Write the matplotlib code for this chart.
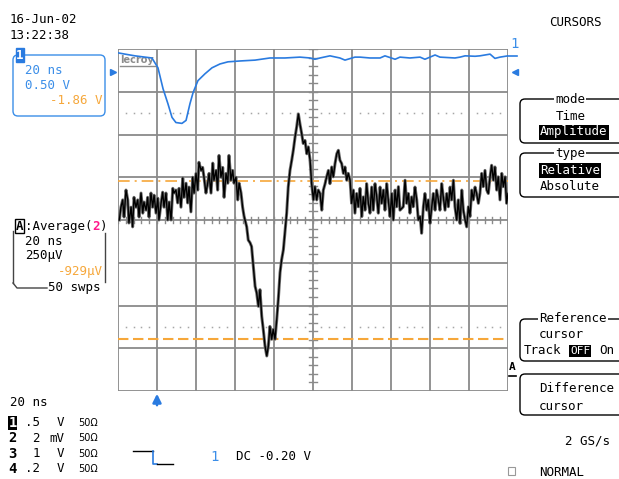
import numpy as np
import matplotlib
matplotlib.use("Agg")
import matplotlib.pyplot as plt
from matplotlib.patches import FancyBboxPatch, Rectangle

# ----------------------------------------------------------------------
# Waveforms: time in ns, level in divisions
# (20 ns/div horizontally, 10 div; 8 div vertically, 0 = screen centre)
# ----------------------------------------------------------------------

ch1_t_ns = [0.0, 3.6, 8.7, 13.8, 17.4, 20.5, 23.1, 25.6, 27.7, 29.7, 32.8,
            34.9, 36.9, 38.5, 41.0, 44.6, 48.2, 52.3, 56.4, 62.6, 70.3, 77.9,
            85.6, 93.3, 98.5, 101.0, 103.6, 108.7, 113.8, 116.4, 121.5, 124.1,
            129.2, 134.4, 136.9, 142.1, 144.6, 149.7, 154.9, 157.4, 162.6,
            165.1, 172.8, 175.4, 178.0, 183.1, 185.6, 190.8, 193.3, 195.9, 200.0]
ch1_div = [3.91, 3.88, 3.84, 3.81, 3.79, 3.56, 3.07, 2.72, 2.40, 2.28, 2.26,
           2.33, 2.72, 2.98, 3.26, 3.42, 3.56, 3.65, 3.70, 3.72, 3.74, 3.79,
           3.79, 3.81, 3.79, 3.76, 3.79, 3.84, 3.79, 3.74, 3.81, 3.81,
           3.79, 3.79, 3.84, 3.76, 3.81, 3.79, 3.81, 3.76, 3.86,
           3.81, 3.79, 3.81, 3.84, 3.83, 3.84, 3.88, 3.78, 3.81, 3.84]

chA_t_ns = [0.7, 1.5, 2.4, 3.1, 4.1, 5.0, 5.6, 6.7, 7.5, 8.2, 9.2, 10.1, 10.8,
            11.8, 12.7, 13.3, 14.4, 15.2, 15.9, 16.9, 17.8, 18.5, 19.5, 20.4,
            21.0, 22.1, 22.9, 23.6, 24.6, 25.5, 26.2, 27.2, 28.1, 28.7, 29.7,
            30.6, 31.3, 32.3, 33.2, 33.8, 34.9, 35.7, 36.4, 37.4, 38.3, 39.0,
            40.0, 40.9, 41.5, 42.6, 43.4, 44.1, 45.1, 46.0, 46.7, 47.7, 48.6,
            49.2, 50.3, 51.1, 51.8, 52.8, 53.7, 54.4, 55.4, 56.3, 56.9, 57.9,
            58.8, 59.5, 60.5, 61.4, 62.1, 63.1, 63.9, 64.6,
            66.0, 66.8, 67.7, 68.5, 69.4, 70.3, 71.1, 72.0, 72.8, 73.7, 74.5,
            75.4, 76.3, 77.1, 77.9, 78.8, 79.6, 80.5, 81.4, 82.2, 83.1, 83.9,
            84.8, 85.6, 86.5, 87.3, 88.2, 89.1, 89.9, 90.8, 91.6, 92.5, 93.3,
            94.2, 95.0, 95.9, 96.8, 97.6, 98.5, 99.3, 100.2, 101.0, 101.9,
            102.7, 103.6, 104.5, 105.3, 106.2, 107.0, 107.9, 108.7, 109.6,
            110.4, 111.3, 112.2, 113.0, 113.8, 114.7, 115.6, 116.4, 117.3,
            118.1, 119.0, 119.8, 120.7, 121.5, 122.4, 123.2, 124.1, 125.0,
            125.8, 126.7, 127.5, 128.4, 129.2, 130.1, 130.9, 131.8, 132.7,
            133.5, 134.4, 135.2, 136.1, 136.9, 137.8, 138.6, 139.5, 140.4,
            141.2, 142.1, 142.9, 143.8, 144.6, 146.3, 147.2, 148.0, 148.9,
            149.7, 150.6, 151.4, 152.3, 153.2, 154.0, 154.9, 155.7, 156.6,
            157.4, 158.3, 159.1, 160.0, 160.9, 161.7, 162.6, 163.4, 164.3,
            165.1, 166.0, 166.8, 167.7, 168.6, 169.4, 170.3, 171.1, 172.0,
            172.8, 173.7, 174.5, 175.4, 176.3, 177.1, 178.0, 178.8, 179.7,
            180.5, 181.4, 182.2, 183.1, 183.9, 184.8, 185.6, 186.5, 187.3,
            188.2, 189.1, 189.9, 190.8, 191.6, 192.5, 193.3, 194.2, 195.0,
            195.9, 196.8, 197.6, 198.5, 199.3, 200.0]
chA_div = [0.00, 0.30, 0.47, 0.07, 0.70, 0.47, -0.07, 0.30, -0.16, 0.53, 0.30,
           0.47, 0.07, 0.63, 0.16, 0.42, 0.23, 0.53, 0.07, 0.63, 0.30, 0.58,
           0.16, 0.51, 0.00, 0.40, 0.65, 0.30, 0.63, 0.00, 0.42, 0.00, 0.74,
           0.63, 0.70, 0.40, 0.74, 0.30, 0.98, 0.53, 0.86, 0.40, 0.77, 0.19,
           1.00, 0.63, 1.09, 0.70, 1.35, 1.16, 1.23, 1.00, 0.63, 0.86, 1.09,
           0.63, 1.33, 0.93, 1.16, 0.70, 1.51, 1.00, 1.23, 0.53, 1.09, 0.86,
           1.51, 0.93, 1.16, 0.86, 1.00, 0.47, 0.86, 0.63, 0.30, 0.10,
           -0.16, -0.47, -0.53, -0.62, -1.09, -1.55, -1.70, -2.02, -1.63,
           -2.25, -2.56, -2.95, -3.18, -2.95, -2.49, -2.79, -2.56, -2.79,
           -2.33, -1.86, -1.23, -0.93, -0.70, -0.30, 0.16, 0.77, 1.16, 1.40,
           1.63, 1.94, 2.17, 2.48, 2.25, 2.02, 1.79, 1.86, 1.55, 1.71, 1.40,
           0.85, 0.47, 0.78, 0.47, 0.70, 0.62, 0.23, 0.70, 0.85, 1.01, 1.16,
           0.85, 1.24, 1.01, 1.32, 1.55, 1.63, 1.40, 1.32, 1.09, 1.24, 0.93,
           1.09, 0.93, 0.39, 0.70, 0.16, 0.62, 0.31, 0.74, 0.08, 0.54, 0.23,
           0.85, 0.39, 0.16, 0.77, 0.23, 0.85, 0.54, 0.16, 0.77, 0.39, 0.70,
           0.23, 0.85, 0.47, 0.08, 0.62, 0.00, 0.70, 0.31, 0.78, 0.23, 0.31,
           0.93, 0.39, 0.62, 0.16, 0.54, 0.31, 0.77, 0.47, 0.00, 0.08, -0.31,
           0.31, 0.62, 0.23, 0.47, -0.08, 0.31, 0.62, 0.23, 0.70, 0.47, 0.23,
           0.85, 0.54, 0.23, 0.62, 0.31, 0.77, 0.47, 0.93, 0.31, 0.00, 0.47,
           -0.08, 0.70, 0.23, 0.00, -0.16, 0.31, 0.08, 0.70, 0.47, 0.77, 0.62,
           0.39, 0.62, 1.09, 0.78, 1.16, 0.70, 0.62, 1.01, 1.28, 0.93, 1.24,
           0.70, 1.01, 0.47, 1.09, 0.78, 1.01, 0.39, 0.62]

cursor_ref_div = 0.91
cursor_diff_div = -2.79

# ----------------------------------------------------------------------

W, H = 619, 479
BLUE = "#2a7be0"
BLUE_TXT = "#3b8ee8"
ORANGE = "#f6a73a"
GRID = "#8a8a8a"
MONO = "DejaVu Sans Mono"

fig = plt.figure(figsize=(W / 100, H / 100), dpi=100)
fig.patch.set_facecolor("white")

# overlay in screen pixels for all the annotation text
ov = fig.add_axes([0, 0, 1, 1])
ov.set_xlim(0, W)
ov.set_ylim(H, 0)
ov.axis("off")


def txt(x, y, s, size=9, color="black", ha="left", **kw):
    return ov.text(x, y, s, fontsize=size, color=color, ha=ha, va="center",
                   family=MONO, **kw)


def inv(x, y, s, ha="left", size=9):
    return txt(x, y, s, size=size, color="white", ha=ha,
               bbox=dict(boxstyle="square,pad=0.08", fc="black", ec="none"))


def rbox(x0, y0, x1, y1, color="black", lw=1.0):
    ov.add_patch(FancyBboxPatch((x0, y0), x1 - x0, y1 - y0,
                                boxstyle="round,pad=0,rounding_size=5",
                                fc="none", ec=color, lw=lw))


# date / time
txt(10, 19, "16-Jun-02")
txt(10, 35, "13:22:38")

# channel 1 box
rbox(13, 55, 105, 116, color=BLUE_TXT, lw=1.0)
ov.add_patch(Rectangle((15.5, 48), 8, 14, fc=BLUE, ec=BLUE))
txt(19.5, 55, "1", color="white", ha="center", weight="bold")
txt(25, 70, "20 ns", color=BLUE_TXT)
txt(25, 85, "0.50 V", color=BLUE_TXT)
txt(103, 100, "-1.86 V", color=ORANGE, ha="right")

# channel A (average) box
ov.plot([13, 13], [231, 283], color="#444444", lw=1)
ov.plot([13, 17, 47], [283, 288, 288], color="#444444", lw=1)
ov.plot([104.5, 104.5], [233, 282], color="#444444", lw=1)
txt(19.5, 226, "A", ha="center", weight="bold",
    bbox=dict(boxstyle="square,pad=0.05", fc="white", ec="black", lw=1))
txt(25, 226, ":Average(")
txt(92, 226, "2", color="#ff1a8c", weight="bold")
txt(100, 226, ")")
txt(25, 241, "20 ns")
txt(25, 256, "250\u00b5V")
txt(103, 271, "-929\u00b5V", color=ORANGE, ha="right")
txt(48, 288, "50 swps")

# bottom left settings
txt(10, 403, "20 ns")
rows = [("1", ".5", "V"), ("2", "2", "mV"), ("3", "1", "V"), ("4", ".2", "V")]
for i, (ch, val, unit) in enumerate(rows):
    y = 423 + i * 15.3
    if ch == "1":
        txt(12.5, y, ch, ha="center", weight="bold", size=10, color="white",
            bbox=dict(boxstyle="square,pad=0.02", fc="black", ec="none"))
    else:
        txt(12.5, y, ch, ha="center", weight="bold", size=10)
    txt(40, y, val, ha="right")
    txt(64, y, unit, ha="right")
    ov.text(78, y, "50\u03a9", fontsize=7, va="center", family="DejaVu Sans")

# trigger symbol and level
ov.plot([133, 152.5], [451, 451], color="black", lw=1)
ov.plot([152.5, 152.5, 157], [451, 464, 464], color=BLUE, lw=1.2)
ov.plot([157, 173], [464, 464], color="black", lw=1)
txt(215, 457, "1", color=BLUE_TXT, ha="center", size=10)
txt(236, 457, "DC -0.20 V")

# trigger position arrow below the grid
ov.annotate("", xy=(157, 391), xytext=(157, 408),
            arrowprops=dict(arrowstyle="-|>,head_width=0.25,head_length=0.5",
                            color=BLUE, lw=1.8))

# channel markers around the grid
ov.plot([113], [72], marker=">", color=BLUE, ms=5)
ov.plot([515], [72], marker="<", color=BLUE, ms=5)
ov.plot([508, 517], [56, 56], color=BLUE, lw=1.2)
txt(514, 44, "1", color=BLUE_TXT, ha="center", size=10)
txt(512.5, 367, "A", ha="center", weight="bold", size=8)
ov.plot([509, 516], [376, 376], color="black", lw=1.2)

# right-hand menu
txt(575, 22, "CURSORS", ha="center")
rbox(520, 99, 640, 143)
txt(570, 99, "mode", ha="center",
    bbox=dict(boxstyle="square,pad=0.1", fc="white", ec="none"))
txt(571, 116, "Time", ha="center")
inv(574, 132, "Amplitude", ha="center")
rbox(520, 153, 640, 197)
txt(570, 153, "type", ha="center",
    bbox=dict(boxstyle="square,pad=0.1", fc="white", ec="none"))
inv(570, 170, "Relative", ha="center")
txt(570, 187, "Absolute", ha="center")

rbox(520, 319, 640, 361)
txt(539, 318, "Reference", ha="left",
    bbox=dict(boxstyle="square,pad=0.1", fc="white", ec="none"))
txt(539, 334, "cursor")
txt(524, 351, "Track")
inv(570, 351, "OFF", size=8)
txt(599, 351, "On")

rbox(520, 374, 640, 415)
txt(539, 389, "Difference")
txt(539, 406, "cursor")

txt(610, 441, "2 GS/s", ha="right")
ov.add_patch(Rectangle((508, 467), 7, 8, fc="none", ec="#999999", lw=0.8))
txt(539, 472, "NORMAL")

# ----------------------------------------------------------------------
# scope grid with the two traces
# ----------------------------------------------------------------------
left, right, top, bottom = 118, 508, 49, 391
ax = fig.add_axes([left / W, 1 - bottom / H, (right - left) / W, (bottom - top) / H])
ax.set_xlim(0, 200)
ax.set_ylim(-4, 4)
ax.axis("off")

for xv in np.arange(0, 201, 20):
    ax.axvline(xv, color=GRID, lw=1.3, zorder=1)
for yv in np.arange(-4, 5, 1):
    ax.axhline(yv, color=GRID, lw=1.3, zorder=1)

# minor ticks along the centre lines
for xv in np.arange(0, 200.1, 4):
    ax.plot([xv, xv], [-0.08, 0.08], color=GRID, lw=1, zorder=1)
for yv in np.arange(-4, 4.01, 0.2):
    ax.plot([98.2, 101.8], [yv, yv], color=GRID, lw=1, zorder=1)

# dotted rows at +/-2.5 div
dots_x = [xv for xv in np.arange(4, 200, 4) if xv % 20 != 0]
for yv in (2.5, -2.5):
    ax.plot(dots_x, [yv] * len(dots_x), ls="none", marker="s", ms=1.1,
            mew=0, color="#a6a6a6", zorder=1)

# lecroy logo in the top-left corner
ax.text(1.0, 3.75, "lecroy", fontsize=7, color="#8c8c8c", weight="bold",
        va="center", ha="left", family="DejaVu Sans", zorder=2)
ax.plot([1.0, 19.0], [3.6, 3.6], color="#8c8c8c", lw=1, zorder=2)

# cursors
ax.axhline(cursor_ref_div, color=ORANGE, lw=1.2, dashes=(7, 3, 1.2, 3), zorder=3)
ax.axhline(cursor_diff_div, color=ORANGE, lw=1.5, dashes=(5, 2.2), zorder=3)

# traces
ax.plot(ch1_t_ns, ch1_div, color=BLUE, lw=1.2, zorder=4)
ax.plot(chA_t_ns, chA_div, color="#6e6e6e", lw=2.2, zorder=4)
ax.plot(chA_t_ns, chA_div, color="black", lw=1.0, zorder=5)

fig.savefig("out.png", dpi=100)
